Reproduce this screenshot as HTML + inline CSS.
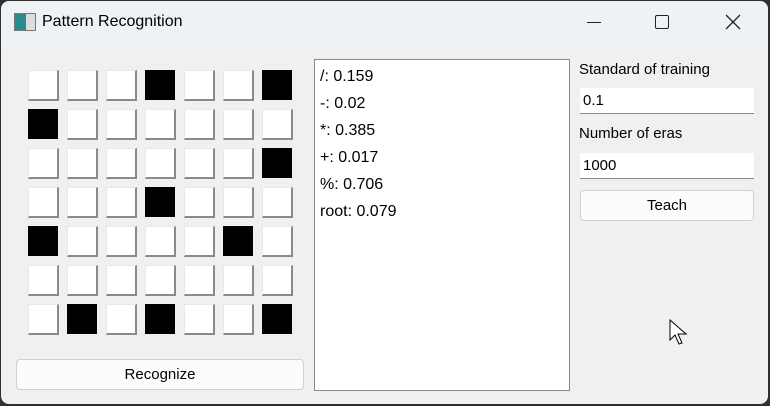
<!DOCTYPE html>
<html><head><meta charset="utf-8"><style>
*{margin:0;padding:0;box-sizing:border-box}
body{width:770px;height:406px;background:#2e3033;position:relative;overflow:hidden;font-family:"Segoe UI","Liberation Sans",sans-serif;color:#000}
.win{position:absolute;left:1px;top:1px;width:767px;height:403px;background:#f0f0f0;border-radius:8px;overflow:hidden}
.tb{position:absolute;left:0;top:0;width:100%;height:43px;background:#eef2f5}
.title{position:absolute;left:41px;top:12px;font-size:16px}
.ico{position:absolute;left:13px;top:12px;width:22px;height:18px;border:1px solid #777;background:linear-gradient(90deg,#2a8c8c 0 55%,#ddd 55%)}
.c{position:absolute;width:31px;height:31px;background:#fff;border-right:2px solid #8a8a8a;border-bottom:2px solid #8a8a8a;border-top:1px solid #e8e8e8;border-left:1px solid #e8e8e8}
.c.b{background:#000;border:none;width:30px;height:30px}
.btn{position:absolute;background:#fcfcfc;border:1px solid #d0d0d0;border-radius:4px;text-align:center;font-size:15px}
.inp{position:absolute;background:#fff;border-bottom:1px solid #8a8a8a;font-size:15px;padding-left:3px;line-height:25px}
.lbl{position:absolute;font-size:15px}
.list{position:absolute;left:313px;top:58px;width:256px;height:332px;background:#fff;border:1px solid #8a8a8a;font-size:16px;line-height:27px;padding:3px 0 0 5px}
</style></head><body>
<div class="win">
<div class="tb"><div class="ico"></div><div class="title">Pattern Recognition</div>
<div style="position:absolute;left:586px;top:21px;width:14px;height:1px;background:#222"></div>
<div style="position:absolute;left:654px;top:14px;width:14px;height:14px;border:1.5px solid #222;border-radius:2px"></div>
<svg style="position:absolute;left:724px;top:13px" width="16" height="16"><path d="M1,1 L15,15 M15,1 L1,15" stroke="#222" stroke-width="1.3"/></svg>
</div>
<div id="g"></div>
<div class="btn" style="left:15px;top:358px;width:288px;height:31px;line-height:29px">Recognize</div>
<div class="list">/: 0.159<br>-: 0.02<br>*: 0.385<br>+: 0.017<br>%: 0.706<br>root: 0.079</div>
<div class="lbl" style="left:578px;top:60px">Standard of training</div>
<div class="inp" style="left:579px;top:87px;width:174px;height:26px">0.1</div>
<div class="lbl" style="left:578px;top:124px">Number of eras</div>
<div class="inp" style="left:579px;top:152px;width:174px;height:26px">1000</div>
<div class="btn" style="left:579px;top:189px;width:174px;height:31px;line-height:29px">Teach</div>
<svg style="position:absolute;left:668px;top:318px" width="20" height="28"><path d="M1,1 L1,21 L6,16 L10,25 L13,24 L9,15 L17,15 Z" fill="#fff" stroke="#000" stroke-width="1"/></svg>
</div>
<script>
var blk={"0,3":1,"0,6":1,"1,0":1,"2,6":1,"3,3":1,"4,0":1,"4,5":1,"6,1":1,"6,3":1,"6,6":1};
var h="";for(var r=0;r<7;r++)for(var c=0;c<7;c++){h+='<div class="c'+(blk[r+","+c]?" b":"")+'" style="left:'+(27+c*39)+'px;top:'+(69+r*39)+'px"></div>';}
document.getElementById("g").innerHTML=h;
</script>
</body></html>
